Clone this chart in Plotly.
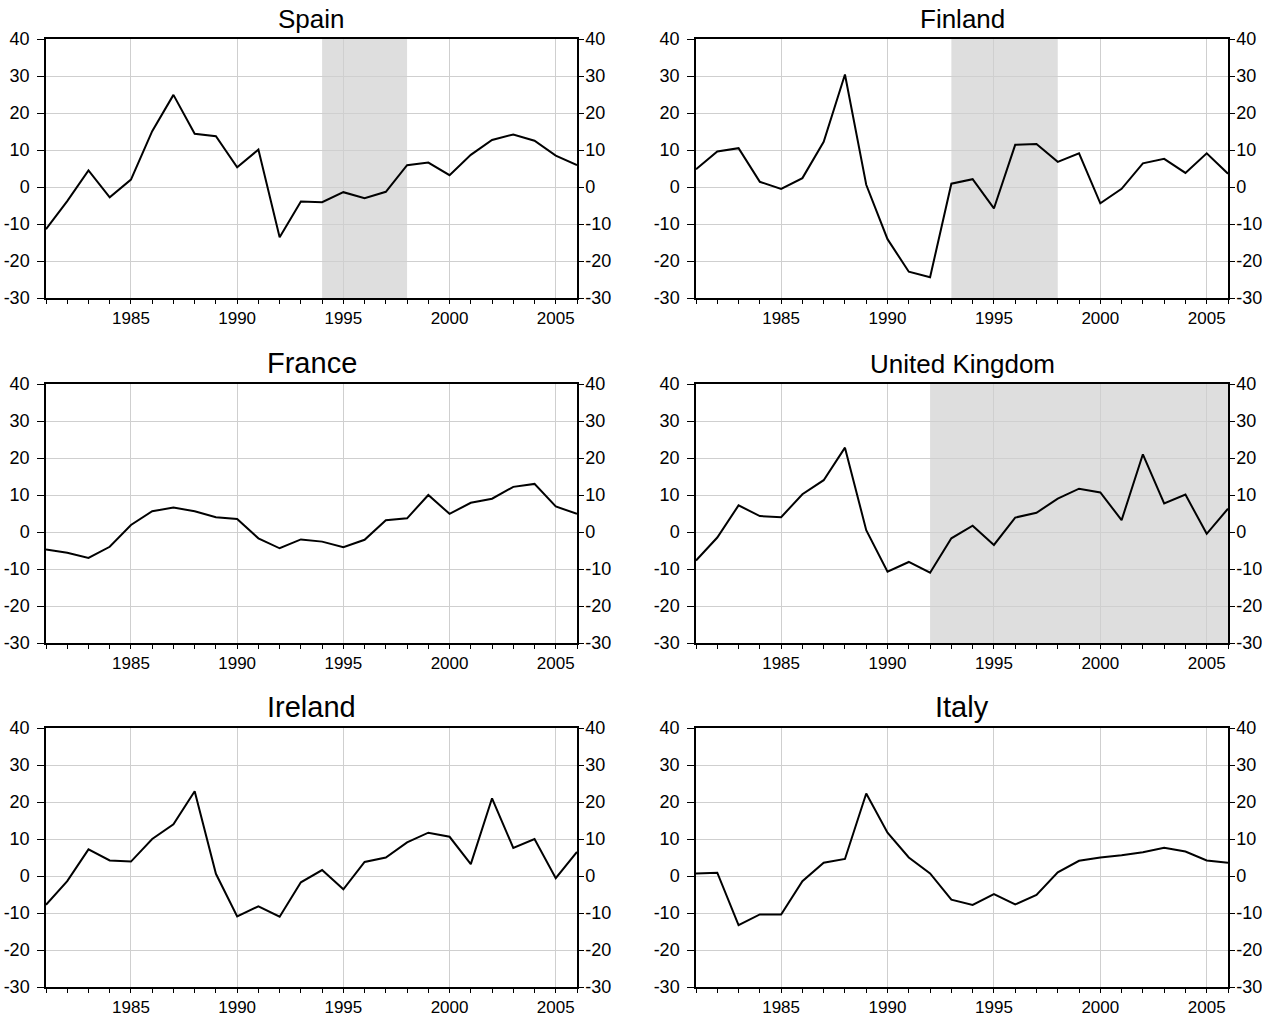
import plotly.graph_objects as go

years = list(range(1981, 2007))

spain = [-11.4, -3.8, 4.5, -2.8, 2.0, 15.1, 24.9, 14.4, 13.7, 5.3, 10.1, -13.6, -3.9,
         -4.1, -1.4, -3.0, -1.3, 5.9, 6.6, 3.2, 8.7, 12.7, 14.2, 12.5, 8.5, 5.9]
finland = [4.8, 9.6, 10.5, 1.4, -0.5, 2.4, 12.2, 30.4, 0.6, -14.1, -22.9, -24.4, 0.9,
           2.1, -5.8, 11.4, 11.6, 6.8, 9.1, -4.4, -0.5, 6.4, 7.6, 3.8, 9.1, 3.6]
france = [-4.7, -5.6, -7.0, -4.0, 1.9, 5.6, 6.6, 5.6, 4.0, 3.5, -1.7, -4.4, -2.0,
          -2.6, -4.1, -2.1, 3.2, 3.7, 10.0, 4.9, 7.9, 9.0, 12.2, 13.0, 6.9, 4.9]
uk = [-7.7, -1.5, 7.2, 4.3, 4.0, 10.2, 14.0, 22.8, 0.5, -10.7, -8.1, -11.0, -1.7,
      1.7, -3.5, 3.9, 5.2, 9.0, 11.7, 10.7, 3.2, 21.0, 7.7, 10.1, -0.5, 6.3]
ireland = [-7.8, -1.4, 7.2, 4.2, 3.9, 10.0, 14.0, 22.9, 0.6, -10.9, -8.2, -11.0, -1.7,
           1.6, -3.6, 3.8, 5.0, 9.1, 11.7, 10.6, 3.2, 21.0, 7.6, 10.0, -0.6, 6.5]
italy = [0.7, 0.9, -13.3, -10.4, -10.4, -1.4, 3.6, 4.6, 22.3, 11.7, 5.0, 0.7, -6.4,
         -7.8, -4.9, -7.7, -5.1, 1.0, 4.1, 5.0, 5.6, 6.4, 7.6, 6.6, 4.2, 3.6]

titles = ["Spain", "Finland", "France", "United Kingdom", "Ireland", "Italy"]
series = [spain, finland, france, uk, ireland, italy]
# shaded periods (start, end) or None
shades = [(1994, 1998), (1993, 1998), None, (1992, 2006), None, None]

x_ticks = [1985, 1990, 1995, 2000, 2005]
x_labels = ["1985", "1990", "1995", "2000", "2005"]
y_ticks = [-30, -20, -10, 0, 10, 20, 30, 40]
y_labels = ["-30", "-20", "-10", "0", "10", "20", "30", "40"]

W, H = 1262, 1021
col_px = [(46, 577), (696, 1228)]
row_px = [(39, 298), (384, 643), (728, 987)]

FONT = "Liberation Sans, Arial, sans-serif"
GRID = "#cfcfcf"
title_sizes = [26, 26, 29, 26, 29, 29]

fig = go.Figure()
layout = {}
shapes = []
annotations = []

for i in range(6):
    n = i + 1
    r, c = divmod(i, 2)
    x0, x1 = col_px[c]
    y0, y1 = row_px[r]
    xd = [x0 / W, x1 / W]
    yd = [1 - y1 / H, 1 - y0 / H]
    xn = "x" if n == 1 else f"x{n}"
    yn = "y" if n == 1 else f"y{n}"
    yr = f"y{n + 6}"

    fig.add_trace(go.Scatter(x=years, y=series[i], xaxis=xn, yaxis=yn, mode="lines",
                             line=dict(color="black", width=2), showlegend=False,
                             hoverinfo="x+y"))
    fig.add_trace(go.Scatter(x=years, y=series[i], xaxis=xn, yaxis=yr, mode="lines",
                             line=dict(color="rgba(0,0,0,0)", width=0), showlegend=False,
                             hoverinfo="skip"))

    layout[f"xaxis{n}"] = dict(
        domain=xd, anchor=yn, range=[1981, 2006], tickmode="array", tickvals=x_ticks,
        ticktext=x_labels, automargin=False,
        showgrid=True, gridcolor=GRID, gridwidth=1, showline=True, linecolor="black",
        linewidth=1.5, mirror=True, ticks="outside", ticklen=4, tickcolor="black",
        tickfont=dict(family=FONT, size=17, color="black"), zeroline=False,
        minor=dict(dtick=1, tick0=1981, ticks="outside", ticklen=4, tickcolor="black",
                   showgrid=False),
        fixedrange=True,
    )
    layout[f"yaxis{n}"] = dict(
        domain=yd, anchor=xn, range=[-30, 40], tickmode="array", tickvals=y_ticks,
        ticktext=y_labels, automargin=False,
        showgrid=True, gridcolor=GRID, gridwidth=1, showline=True, linecolor="black",
        linewidth=1.5, ticks="outside", ticklen=7, tickcolor="black",
        tickfont=dict(family=FONT, size=18, color="black"), zeroline=False,
        ticklabelstandoff=4, fixedrange=True,
    )
    layout[f"yaxis{n + 6}"] = dict(
        overlaying=yn, anchor=xn, side="right", range=[-30, 40], tickmode="array",
        tickvals=y_ticks, ticktext=y_labels, automargin=False,
        showgrid=False, showline=True, linecolor="black", linewidth=1.5,
        ticks="outside", ticklen=5, tickcolor="black",
        tickfont=dict(family=FONT, size=18, color="black"), zeroline=False,
        ticklabelstandoff=-2, fixedrange=True,
    )

    if shades[i] is not None:
        s0, s1 = shades[i]
        shapes.append(dict(type="rect", xref=xn, yref=f"{yn} domain", x0=s0, x1=s1,
                           y0=0, y1=1, fillcolor="#dedede", line=dict(width=0),
                           layer="below"))

    annotations.append(dict(
        text=titles[i], xref=f"{xn} domain", yref=f"{yn} domain", x=0.5, y=1,
        xanchor="center", yanchor="bottom", yshift=3, showarrow=False,
        font=dict(family=FONT, size=title_sizes[i], color="black"),
    ))

fig.update_layout(
    width=W, height=H, margin=dict(l=0, r=0, t=0, b=0),
    paper_bgcolor="white", plot_bgcolor="white", showlegend=False,
    shapes=shapes, annotations=annotations, **layout,
)

fig.write_html("out.html")
